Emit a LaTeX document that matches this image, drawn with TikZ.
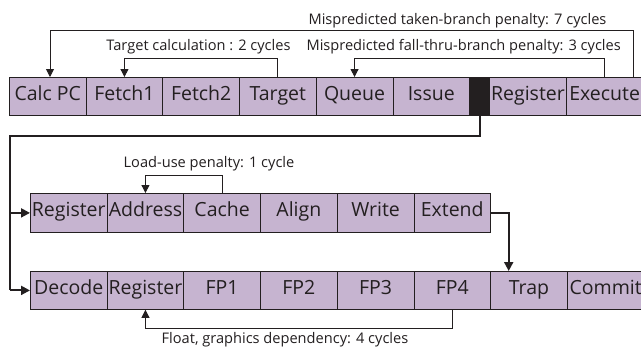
\documentclass[tikz,border=0pt]{standalone}
\usepackage{fontspec}
\setmainfont{Open Sans}
\usetikzlibrary{arrows.meta}
\definecolor{stagefill}{RGB}{198,180,208}
\definecolor{ink}{RGB}{35,31,32}
\begin{document}
\begin{tikzpicture}[x=1pt,y=-1pt,
  stage/.style={draw=ink, line width=0.8pt, fill=stagefill, anchor=north west,
    minimum width=76.7pt, minimum height=38pt, inner sep=0pt,
    text height=14pt, text depth=6pt,
    font=\fontsize{19.5}{19.5}\selectfont, text=ink},
  blackstage/.style={draw=ink, line width=0.8pt, fill=ink, anchor=north west,
    minimum width=20pt, minimum height=38pt, inner sep=0pt},
  lbl/.style={font=\fontsize{14.6}{14.6}\selectfont, text=ink, inner sep=0pt, anchor=base},
  thinarr/.style={draw=ink, line width=0.8pt, -{Triangle[length=8pt,width=8pt]}},
  thickline/.style={draw=ink, line width=2pt},
  thickarr/.style={draw=ink, line width=2pt, -{Triangle[length=9pt,width=9pt]}},
]
\useasboundingbox (0,0) rectangle (641,348);
\fill[white] (0,0) rectangle (641,348);

% row 1
\node[stage] (calc)   at (9,77)     {Calc PC};
\node[stage] (fetch1) at (85.7,77)  {Fetch1};
\node[stage] (fetch2) at (162.4,77) {Fetch2};
\node[stage] (target) at (239.1,77) {Target};
\node[stage] (queue)  at (315.8,77) {Queue};
\node[stage] (issue)  at (392.5,77) {Issue};
\node[blackstage] (blk) at (469.2,77) {};
\node[stage] (reg1)   at (489.2,77) {Register};
\node[stage] (exec)   at (565.9,77) {Execute};

% row 2
\node[stage, minimum height=39pt] (reg2)  at (30,193)    {Register};
\node[stage, minimum height=39pt] (addr)  at (106.7,193) {Address};
\node[stage, minimum height=39pt] (cache) at (183.4,193) {Cache};
\node[stage, minimum height=39pt] (align) at (260.1,193) {Align};
\node[stage, minimum height=39pt] (write) at (336.8,193) {Write};
\node[stage, minimum height=39pt] (ext)   at (413.5,193) {Extend};

% row 3
\node[stage] (dec)    at (30,271)    {Decode};
\node[stage] (reg3)   at (106.7,271) {Register};
\node[stage] (fp1)    at (183.4,271) {FP1};
\node[stage] (fp2)    at (260.1,271) {FP2};
\node[stage] (fp3)    at (336.8,271) {FP3};
\node[stage] (fp4)    at (413.5,271) {FP4};
\node[stage] (trap)   at (490.2,271) {Trap};
\node[stage] (commit) at (566.9,271) {Commit};

% feedback arrows
\draw[thinarr] ([xshift=67pt]exec.north west) -- ++(0,-47) -| ([xshift=41pt]calc.north west);
\draw[thinarr] (target.north) -- ++(0,-19) -| (fetch1.north);
\draw[thinarr] (exec.north) -- ++(0,-19) -| (queue.north);
\draw[thinarr] (cache.north) -- ++(0,-18) -| (addr.north);
\draw[thinarr] (fp4.south) -- ++(0,19) -| (reg3.south);

% labels
\node[lbl] (ltaken)  at (457.5,24)  {Mispredicted taken-branch penalty: 7 cycles};
\node[lbl] (ltarget) at (198.5,50.5) {Target calculation : 2 cycles};
\node[lbl] (lfall)   at (463.7,50.5) {Mispredicted fall-thru-branch penalty: 3 cycles};
\node[lbl] (lload)   at (209,167.3) {Load-use penalty: 1 cycle};
\node[lbl] (lfloat)  at (285,343)   {Float, graphics dependency: 4 cycles};

% thick flow
\coordinate (j) at (10,136);
\draw[thickline] (blk.south) |- (j) -- (j |- dec.west);
\draw[thickarr] (j |- dec.west) -- (dec.west);
\draw[thickarr] (j |- reg2.west) -- (reg2.west);
\draw[thickarr] (ext.east) -| ([xshift=18.5pt]trap.north west);
\end{tikzpicture}
\end{document}
